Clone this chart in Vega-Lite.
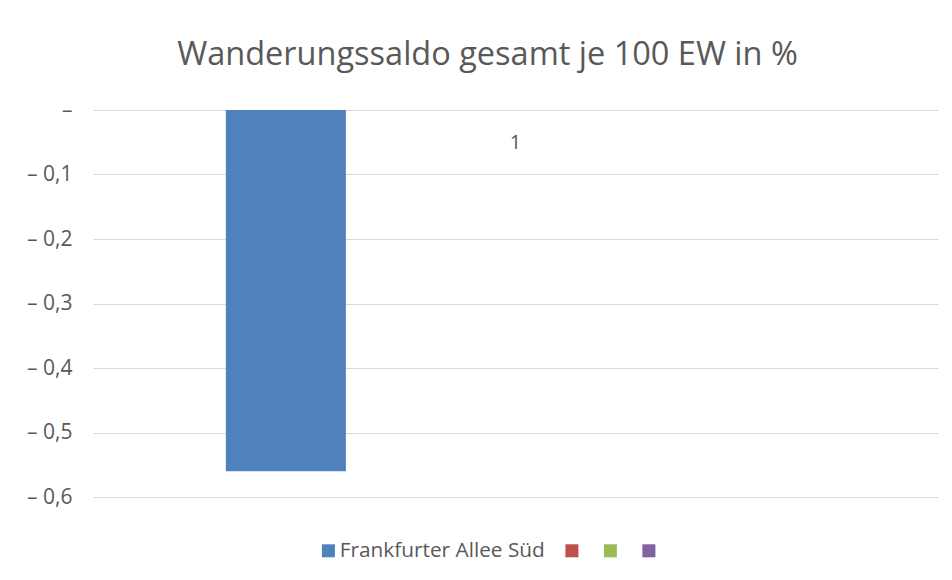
{
  "$schema": "https://vega.github.io/schema/vega-lite/v6.json",
  "autosize": "none",
  "width": 845,
  "height": 387,
  "padding": {"left": 93, "top": 110, "right": 14, "bottom": 83},
  "background": "white",
  "title": {
    "text": "Wanderungssaldo gesamt je 100 EW in %",
    "font": "Open Sans",
    "fontSize": 32.5,
    "fontWeight": "normal",
    "color": "#595959",
    "anchor": "middle",
    "baseline": "alphabetic",
    "offset": 2,
    "dx": -28
  },
  "data": {
    "values": [
      {"category": "1", "series": "Frankfurter Allee Süd", "value": -0.56}
    ]
  },
  "mark": {"type": "bar", "color": "#4F81BD"},
  "encoding": {
    "x": {
      "field": "category",
      "type": "nominal",
      "scale": {"paddingInner": 0, "paddingOuter": 0.19},
      "axis": {
        "orient": "top",
        "title": null,
        "domain": false,
        "ticks": false,
        "tickSize": 0,
        "labelAngle": 0,
        "labelBaseline": "middle",
        "labelPadding": -32.5,
        "labelFont": "Open Sans",
        "labelFontSize": 20,
        "labelColor": "#595959"
      }
    },
    "xOffset": {
      "field": "series",
      "type": "nominal",
      "scale": {
        "domain": ["Frankfurter Allee Süd", "S2", "S3", "S4"],
        "paddingInner": 0.216,
        "paddingOuter": 0.108
      }
    },
    "y": {
      "field": "value",
      "type": "quantitative",
      "scale": {"domain": [-0.6, 0], "nice": false, "zero": false},
      "axis": {
        "title": null,
        "values": [0, -0.1, -0.2, -0.3, -0.4, -0.5, -0.6],
        "labelExpr": "datum.value == 0 ? '–' : '– ' + replace(format(abs(datum.value), '.1f'), '.', ',')",
        "domain": false,
        "ticks": false,
        "labelPadding": 21,
        "labelFont": "Open Sans",
        "labelFontSize": 21,
        "labelColor": "#595959",
        "gridColor": "#D9D9D9",
        "gridWidth": 1
      }
    },
    "color": {
      "field": "series",
      "type": "nominal",
      "scale": {
        "domain": ["Frankfurter Allee Süd", "S2", "S3", "S4"],
        "range": ["#4F81BD", "#C0504D", "#9BBB59", "#8064A2"]
      },
      "legend": {
        "orient": "none",
        "legendX": 225,
        "legendY": 430,
        "direction": "horizontal",
        "title": null,
        "padding": 0,
        "symbolType": "square",
        "symbolSize": 169,
        "symbolStrokeWidth": 0,
        "symbolOpacity": 1,
        "labelOffset": 1,
        "columnPadding": 16.5,
        "labelFont": "Open Sans",
        "labelFontSize": 20.8,
        "labelColor": "#595959",
        "labelLimit": 400,
        "labelExpr": "datum.label == 'Frankfurter Allee Süd' ? datum.label : ''"
      }
    }
  },
  "config": {"view": {"stroke": null}}
}
